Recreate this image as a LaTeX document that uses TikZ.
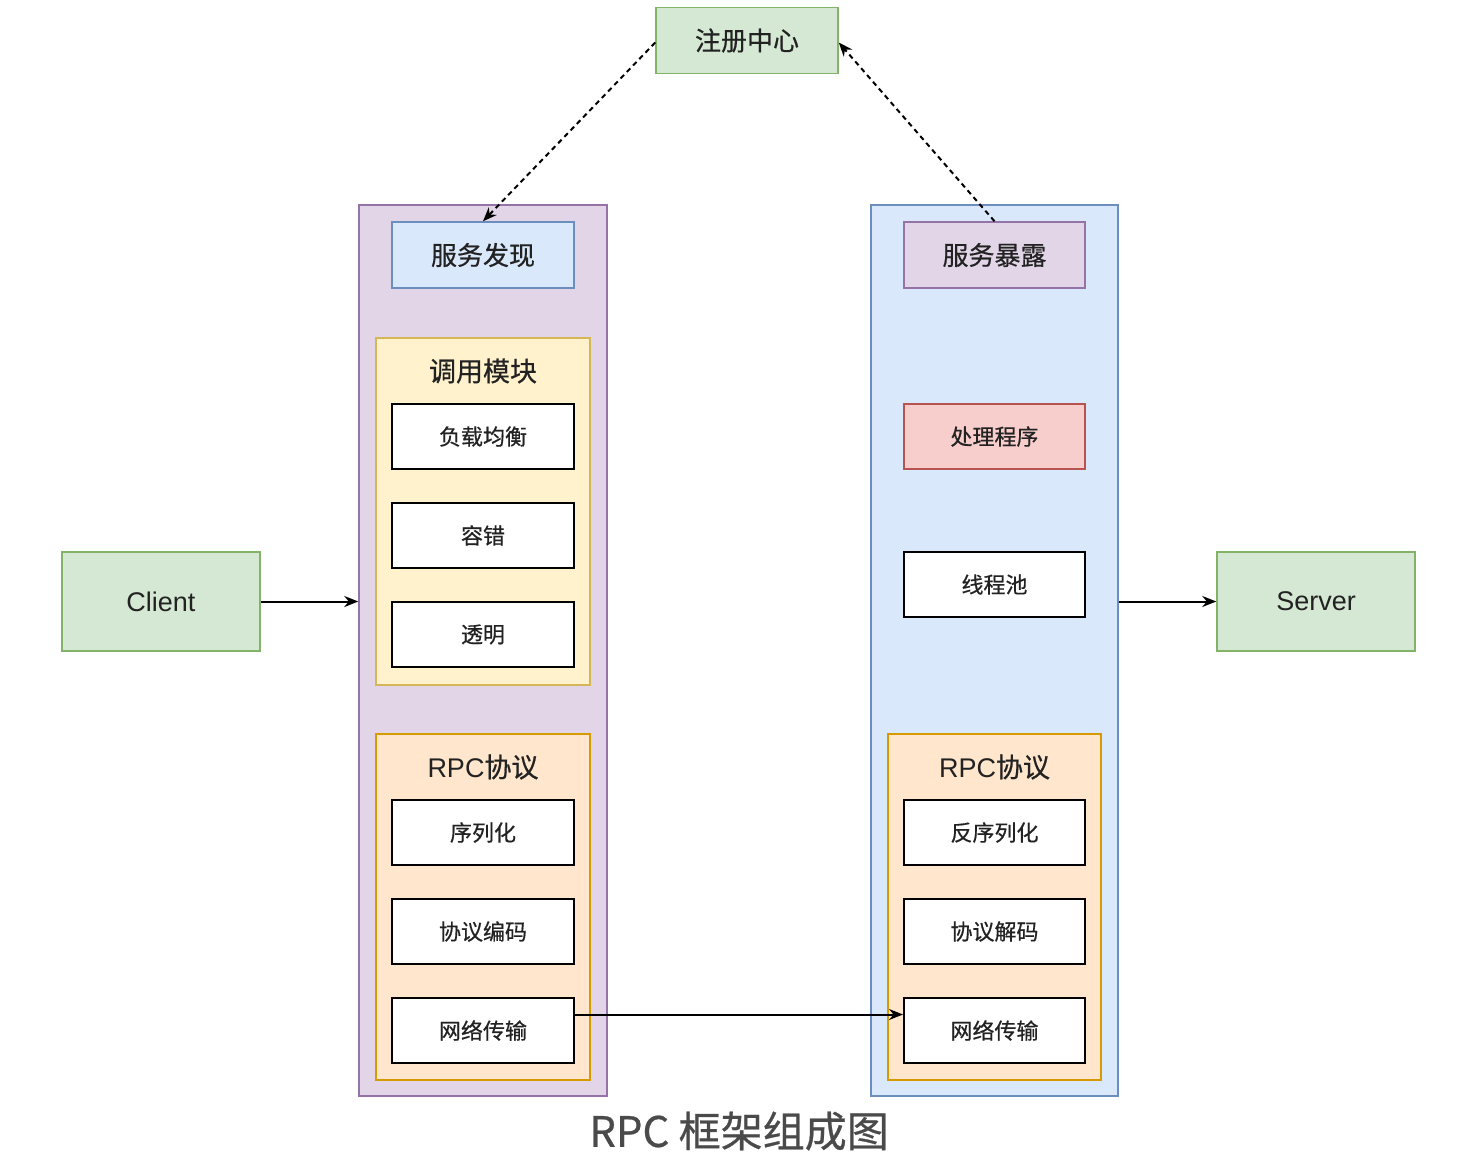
\documentclass[tikz,border=0pt]{standalone}
\usepackage{fontspec}
\setmainfont[FakeBold=0.6,AutoFakeBold=0.6]{Noto Sans CJK SC}
\newfontfamily\lib{Liberation Sans}
\usetikzlibrary{arrows.meta}
\definecolor{purf}{HTML}{E1D5E7}\definecolor{purd}{HTML}{9673A6}
\definecolor{bluf}{HTML}{DAE8FC}\definecolor{blud}{HTML}{6C8EBF}
\definecolor{yelf}{HTML}{FFF2CC}\definecolor{yeld}{HTML}{D6B656}
\definecolor{orf}{HTML}{FFE6CC}\definecolor{ord}{HTML}{D79B00}
\definecolor{redf}{HTML}{F8CECC}\definecolor{redd}{HTML}{B85450}
\definecolor{grf}{HTML}{D5E8D4}\definecolor{grd}{HTML}{82B366}
\definecolor{txt}{HTML}{222222}\definecolor{cap}{HTML}{4A4A4A}
\tikzset{
  base/.style={rectangle,inner sep=0pt,line width=1.5pt,text=txt},
  container/.style={base,minimum width=248pt,minimum height=891pt},
  grp/.style={base,minimum width=214pt,minimum height=346pt},
  topbox/.style={base,minimum width=182pt,minimum height=66pt,font=\fontsize{26}{30}\selectfont\bfseries},
  wbox/.style={base,draw=black,fill=white,line width=2pt,minimum width=182pt,minimum height=65pt,font=\fontsize{22}{26}\selectfont},
  endbox/.style={base,draw=grd,fill=grf,minimum width=198pt,minimum height=99pt,font=\lib\fontsize{27}{31}\selectfont},
  gtitle/.style={inner sep=0pt,text=txt,font=\fontsize{27}{31}\selectfont\bfseries},
  arr/.style={line width=2pt,-{Stealth[length=14pt,width=11pt]}},
  darr/.style={line width=2pt,dash pattern=on 5pt off 4pt,-{Stealth[length=14pt,width=11pt]}}
}
\begin{document}
\begin{tikzpicture}[x=1pt,y=-1pt]
\useasboundingbox (0,0) rectangle (1459,1168);
% registry
\node[topbox,draw=grd,fill=grf] (reg) at (747,40.5) {注册中心};
% containers
\node[container,draw=purd,fill=purf] (lc) at (483,650.5) {};
\node[container,draw=blud,fill=bluf,minimum width=247pt] (rc) at (994.5,650.5) {};
% left side
\node[topbox,draw=blud,fill=bluf] (sd) at (483,255) {服务发现};
\node[grp,draw=yeld,fill=yelf,minimum height=347pt] (lg1) at (483,511.5) {};
\node[gtitle] (lg1t) at (483,371) {调用模块};
\node[wbox] (l1) at (483,436.5) {负载均衡};
\node[wbox] (l2) at (483,535.5) {容错};
\node[wbox] (l3) at (483,634.5) {透明};
\node[grp,draw=ord,fill=orf] (lg2) at (483,907) {};
\node[gtitle] (lg2t) at (483,767) {{\lib\mdseries RPC}协议};
\node[wbox] (ln1) at (483,832.5) {序列化};
\node[wbox] (ln2) at (483,931.5) {协议编码};
\node[wbox] (ln3) at (483,1030.5) {网络传输};
% right side
\node[topbox,draw=purd,fill=purf,minimum width=181pt] (se) at (994.5,255) {服务暴露};
\node[wbox,draw=redd,fill=redf,line width=1.5pt,minimum width=181pt] (r1) at (994.5,436.5) {处理程序};
\node[wbox,minimum width=181pt] (r2) at (994.5,584.5) {线程池};
\node[grp,draw=ord,fill=orf,minimum width=213pt] (rg2) at (994.5,907) {};
\node[gtitle] (rg2t) at (994.5,767) {{\lib\mdseries RPC}协议};
\node[wbox,minimum width=181pt] (rn1) at (994.5,832.5) {反序列化};
\node[wbox,minimum width=181pt] (rn2) at (994.5,931.5) {协议解码};
\node[wbox,minimum width=181pt] (rn3) at (994.5,1030.5) {网络传输};
% client / server
\node[endbox] (client) at (161,601.5) {Client};
\node[endbox] (server) at (1316,601.5) {Server};
% connectors
\draw[arr] (client.east) -- (lc.west |- client.east);
\draw[arr] (rc.east |- server.west) -- (server.west);
\draw[arr] ([yshift=16pt]ln3.east) -- ([yshift=16pt]rn3.west);
\draw[darr] ([yshift=-2pt]reg.west) -- (sd.north);
\draw[darr] (se.north) -- ([yshift=-2pt]reg.east);
% caption
\node[text=cap,inner sep=0pt,font=\fontsize{42}{46}\selectfont\bfseries] (caption) at (739,1131) {RPC 框架组成图};
\end{tikzpicture}
\end{document}
